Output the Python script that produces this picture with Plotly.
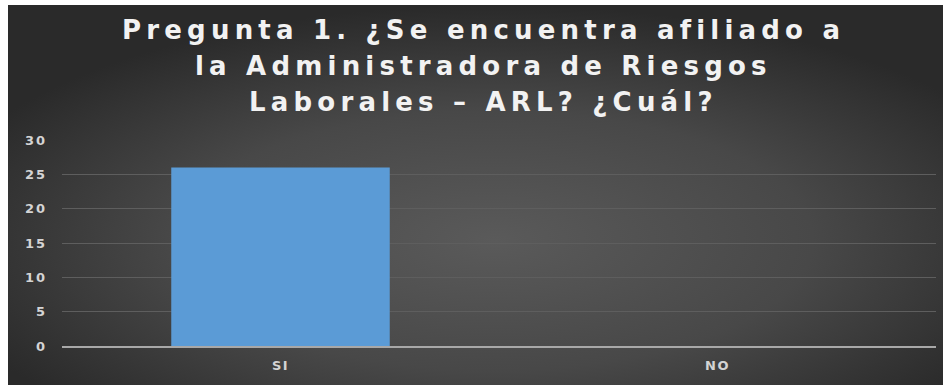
import base64
import plotly.graph_objects as go

# Survey answers for question 1
categories = ["SI", "NO"]
counts = [26, 0]
y_ticks = [0, 5, 10, 15, 20, 25, 30]
title_lines = [
    "Pregunta 1. ¿Se encuentra afiliado a",
    "la Administradora de Riesgos",
    "Laborales – ARL? ¿Cuál?",
]

FONT = "DejaVu Sans"


def spaced(text, px):
    return f"<span style='letter-spacing:{px}px'>{text}</span>"


# Dark radial-gradient backdrop for the chart card
svg = (
    "<svg xmlns='http://www.w3.org/2000/svg' width='935' height='380' "
    "viewBox='0 0 100 100' preserveAspectRatio='none'>"
    "<defs><radialGradient id='g' cx='52%' cy='62%' r='62%'>"
    "<stop offset='0' stop-color='#5a5a5a'/>"
    "<stop offset='0.55' stop-color='#484848'/>"
    "<stop offset='1' stop-color='#2a2a2a'/>"
    "</radialGradient></defs>"
    "<rect width='100' height='100' fill='url(#g)'/></svg>"
)
bg_src = "data:image/svg+xml;base64," + base64.b64encode(svg.encode()).decode()

W, H = 946, 385
L, R, T, B = 62, 10, 140, 39
pw, ph = W - L - R, H - T - B


def px_x(x):
    return (x - L) / pw


def px_y(y):
    return (H - B - y) / ph


fig = go.Figure()
fig.add_trace(
    go.Bar(
        x=categories,
        y=counts,
        marker=dict(color="#5b9bd6", line=dict(width=0)),
        hoverinfo="x+y",
    )
)

annotations = []
for i, line in enumerate(title_lines):
    annotations.append(
        dict(
            text=spaced(line, 5.2),
            xref="paper",
            yref="paper",
            x=px_x(483),
            y=px_y([30, 66, 102][i]),
            xanchor="center",
            yanchor="middle",
            showarrow=False,
            font=dict(family=FONT, size=26, color="#f2f2f2", weight="bold"),
        )
    )

fig.update_layout(
    width=W,
    height=H,
    margin=dict(l=L, r=R, t=T, b=B, pad=0),
    paper_bgcolor="white",
    plot_bgcolor="rgba(0,0,0,0)",
    bargap=0.5,
    showlegend=False,
    annotations=annotations,
    images=[
        dict(
            source=bg_src,
            xref="paper",
            yref="paper",
            x=px_x(8),
            y=px_y(5),
            sizex=935 / pw,
            sizey=380 / ph,
            xanchor="left",
            yanchor="top",
            sizing="stretch",
            layer="below",
        )
    ],
    xaxis=dict(
        tickvals=categories,
        ticktext=[spaced(c, 1.5) for c in categories],
        tickfont=dict(family=FONT, size=13, color="#d4d4d4", weight="bold"),
        showline=True,
        linecolor="#a8a8a8",
        linewidth=1.5,
        showgrid=False,
        ticks="",
        ticklabelstandoff=7,
        fixedrange=True,
    ),
    yaxis=dict(
        range=[0, 30],
        tickvals=y_ticks,
        ticktext=[spaced(str(v), 2) for v in y_ticks],
        tickfont=dict(family=FONT, size=13, color="#d4d4d4", weight="bold"),
        showgrid=True,
        gridcolor="#5e5e5e",
        gridwidth=1,
        zeroline=False,
        ticks="",
        ticklabelstandoff=14,
        fixedrange=True,
    ),
)

fig.write_html("out.html", config={"displayModeBar": False})
